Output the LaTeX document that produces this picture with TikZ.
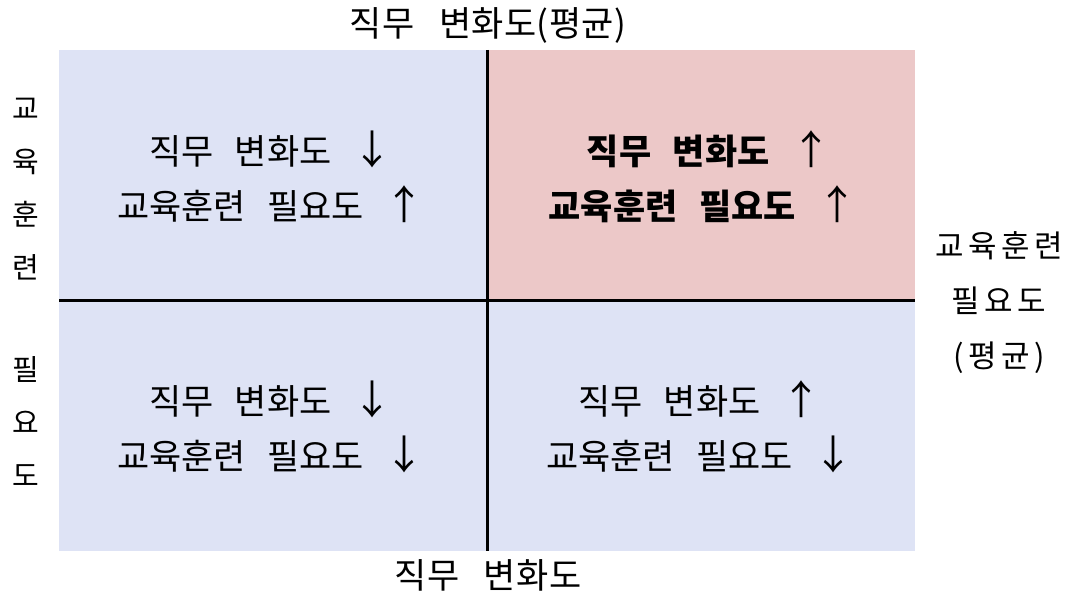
\documentclass[tikz,border=0pt]{standalone}
\usepackage{fontspec}
\setmainfont{Noto Sans CJK KR}
\newfontfamily\qfont[LetterSpace=0,WordSpace=2.7]{Noto Sans CJK KR}
\newfontfamily\lfont[LetterSpace=14,WordSpace=2.0]{Noto Sans CJK KR}
\newfontfamily\sfont[LetterSpace=10,WordSpace=2.0]{Noto Sans CJK KR}
\newfontfamily\tfont[LetterSpace=1,WordSpace=3.0]{Noto Sans CJK KR}
\newfontfamily\arrfont{Noto Sans CJK KR}
\newcommand{\up}{{\arrfont\fontsize{40}{55}\selectfont\mdseries ↑}}
\newcommand{\dn}{{\arrfont\fontsize{40}{55}\selectfont\mdseries ↓}}
\definecolor{qblue}{RGB}{222,227,245}
\definecolor{qpink}{RGB}{236,200,200}
\tikzset{
  quad/.style={align=center, inner sep=0pt, font=\qfont\fontsize{35}{55}\selectfont},
  axislab/.style={align=center, inner sep=0pt, font=\lfont\fontsize{31}{55}\selectfont},
  sidelab/.style={align=center, inner sep=0pt, font=\sfont\fontsize{29}{53}\selectfont},
  toplab/.style={inner sep=0pt, font=\tfont\fontsize{35}{40}\selectfont},
  axisline/.style={line width=3pt, black}
}
\begin{document}
\begin{tikzpicture}[x=1pt,y=-1pt]
\useasboundingbox (0,0) rectangle (1069,591);
% quadrant fills
\fill[qblue] (59,50) rectangle (487,300);
\fill[qpink] (487,50) rectangle (915,300);
\fill[qblue] (59,300) rectangle (487,551);
\fill[qblue] (487,300) rectangle (915,551);
% axes
\coordinate (vtop) at (487,50);
\coordinate (vbot) at (487,551);
\coordinate (hl) at (59,300);
\coordinate (hr) at (915,300);
\draw[axisline] (vtop) -- (vbot);
\draw[axisline] (hl) -- (hr);
% quadrant texts
\node[quad] (tl) at (271,177) {직무 변화도 \dn\\교육훈련 필요도 \up};
\node[quad, font=\qfont\bfseries\fontsize{35}{55}\selectfont] (tr) at (703,177) {\hspace*{12pt}직무 변화도 \up\\교육훈련 필요도 \up};
\node[quad] (bl) at (271,427) {직무 변화도 \dn\\교육훈련 필요도 \dn};
\node[quad] (br) at (700,427) {직무 변화도 \up\\교육훈련 필요도 \dn};
% axis labels
\node[toplab] (top) at (488,25) {직무 변화도(평균)};
\node[toplab] (bot) at (488,575) {직무 변화도};
\node[axislab] (right) at (999,303) {교육훈련\\필요도\\(평균)};
\node[sidelab] (left1) at (26,189) {교\\육\\훈\\련};
\node[sidelab] (left2) at (26,422) {필\\요\\도};
\end{tikzpicture}
\end{document}
